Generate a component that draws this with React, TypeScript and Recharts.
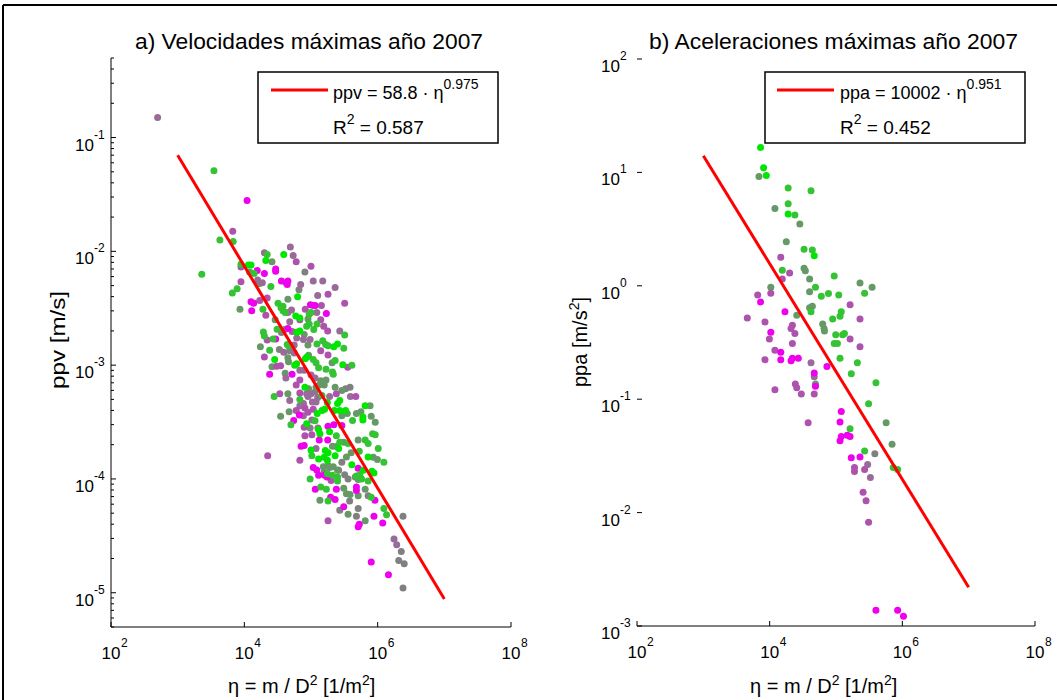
import { ScatterChart, Scatter, XAxis, YAxis } from 'recharts';

// tick values
const etaTicks = [1e2, 1e4, 1e6, 1e8];
const ppaMajor = [1e-3, 1e-2, 1e-1, 1, 10, 100];

// a) ppv [m/s] vs eta, grouped by dot colour
const ppvBrightGreen = [
  [3.9e4, 9.4e-3], [2.1e4, 8.3e-3], [1.15e4, 7.6e-3], [1.26e4, 7.6e-3], [6.3e4, 4.0e-3], [5.9e4, 2.7e-3],
  [6.8e4, 2.6e-3], [6.1e4, 1.95e-3], [6.8e4, 2.0e-3], [2.2e5, 1.45e-3], [2.5e5, 1.53e-3], [2.85e4, 1.12e-3],
  [5.7e4, 1.0e-3], [6.1e4, 1.03e-3], [8.2e4, 1.14e-3], [8.7e4, 1.18e-3], [3.0e5, 1.01e-3], [8.1e4, 6.4e-4],
  [6.5e5, 4.4e-4], [2.5e5, 4.6e-4], [2.7e5, 4.9e-4], [1.76e5, 4.7e-4], [6.0e5, 3.5e-4], [6.0e5, 3.3e-4],
  [2.24e5, 4.0e-4], [2.7e5, 4.0e-4], [3.3e5, 4.0e-4], [1.46e5, 4.0e-4], [1.6e5, 4.1e-4], [1.24e5, 3.75e-4],
  [1.3e5, 2.7e-4], [1.36e5, 2.5e-4], [1.9e5, 2.6e-4], [1.0e5, 1.8e-4], [1.64e5, 1.78e-4], [1.8e5, 1.7e-4],
  [2.6e5, 1.85e-4], [7.2e5, 1.56e-4], [4.1e5, 1.33e-4], [6.1e5, 1.19e-4], [8.2e5, 1.17e-4], [8.8e5, 1.13e-4],
  [1.76e5, 1.46e-4], [1.3e5, 1.5e-4], [1.58e5, 1.55e-4], [8.6e4, 3.05e-4], [2.3e5, 1.6e-4],
];
const ppvGreen = [
  [3.5e3, 5.1e-2], [4.3e3, 1.26e-2], [6.8e3, 1.22e-2], [2.3e3, 6.3e-3], [2.2e4, 9.4e-3], [1.4e4, 6.4e-3],
  [2.5e4, 4.9e-3], [7.8e3, 4.7e-3], [3.8e4, 3.3e-3], [6.6e3, 4.3e-3], [8.9e3, 7.7e-3], [3.55e4, 3.2e-3],
  [1.9e4, 3.1e-3], [3.2e4, 3.5e-3], [3.8e4, 3.0e-3], [4.1e4, 2.9e-3], [9.4e4, 2.8e-3], [1.0e5, 2.9e-3],
  [9.4e4, 2.3e-3], [1.23e5, 2.3e-3], [1.1e5, 2.06e-3], [8.6e4, 2.2e-3], [3.1e4, 2.07e-3], [2.7e4, 1.7e-3],
  [1.93e4, 1.96e-3], [2.0e4, 1.8e-3], [1.23e5, 1.53e-3], [1.5e5, 1.64e-3], [1.66e5, 1.52e-3], [1.8e5, 1.48e-3],
  [3.1e5, 1.41e-3], [4.4e4, 1.52e-3], [4.6e4, 1.48e-3], [1.08e5, 1.12e-3], [1.19e5, 1.05e-3], [1.3e5, 9.5e-4],
  [1.68e5, 9.2e-4], [2.1e5, 8.7e-4], [2.16e5, 8.3e-4], [2.8e4, 5.3e-4], [6.8e4, 5.0e-4], [5.0e4, 3.0e-4],
  [4.2e5, 3.26e-4], [2.4e5, 2.4e-4], [2.7e5, 2.1e-4], [3.6e5, 2.05e-4], [5.3e5, 1.75e-4], [6.5e5, 2.2e-4],
  [7.2e5, 2.05e-4], [8.4e5, 2.5e-4], [9.2e5, 2.45e-4], [1.02e6, 1.85e-4], [1.24e6, 1.4e-4], [1.76e5, 1.11e-4],
  [2.1e5, 1.08e-4], [2.5e5, 1.04e-4], [2.5e5, 9.6e-5], [4.8e5, 1.06e-4], [5.4e5, 1.09e-4], [5.75e5, 1.0e-4],
  [7.2e5, 9.6e-5], [1.4e5, 8.5e-5], [1.7e5, 8.1e-5], [1.8e5, 6.4e-5], [8.0e5, 6.9e-5], [1.24e6, 5.5e-5],
  [1.36e6, 4.85e-5], [1.15e5, 3.25e-4], [2.4e4, 1.35e-3], [1.46e5, 5.4e-4], [2.3e5, 1.1e-3], [3.2e5, 1.84e-3],
  [4.1e5, 1.0e-3], [1.03e5, 1.6e-4], [9.7e4, 1.0e-4],
];
const ppvGreyGreen = [
  [1.2e4, 6.6e-3], [1.66e4, 5.2e-3], [4.5e4, 3.8e-3], [8.6e3, 3.1e-3], [9.0e4, 2.55e-3], [4.1e4, 2.07e-3],
  [7.9e4, 1.86e-3], [1.74e4, 1.45e-3], [2.6e4, 9.7e-4], [4.5e4, 1.16e-3], [4.6e4, 1.07e-3], [4.1e4, 8.5e-4],
  [9.2e4, 1.22e-3], [2.07e5, 1.05e-3], [1.4e5, 7.3e-4], [1.58e5, 6.7e-4], [9.2e4, 6.2e-4], [1.19e5, 6.4e-4],
  [1.33e5, 6.7e-4], [2.3e5, 6.4e-4], [2.9e5, 6.0e-4], [7.7e5, 4.4e-4], [4.5e4, 5.6e-4], [3.5e4, 3.56e-4],
  [4.7e4, 3.9e-4], [5.6e5, 3.9e-4], [4.8e5, 3.75e-4], [8.0e5, 3.56e-4], [9.2e5, 3.15e-4], [3.5e5, 3.75e-4],
  [2.9e5, 3.6e-4], [2.1e5, 1.94e-4], [2.4e5, 1.93e-4], [3.1e5, 2.1e-4], [4.0e5, 1.7e-4], [3.4e5, 1.56e-4],
  [8.6e5, 1.55e-4], [9.9e5, 1.48e-4], [1.8e5, 1.32e-4], [1.53e5, 1.28e-4], [2.16e5, 1.28e-4], [2.5e5, 1.2e-4],
  [4.6e5, 1.04e-4], [5.1e5, 9.9e-5], [3.1e5, 8.3e-5], [3.4e5, 7.4e-5], [3.85e5, 7.3e-5], [5.1e5, 7.1e-5],
  [6.5e5, 8.1e-5], [3.6e5, 4.9e-5], [2.9e4, 2.5e-3], [9.0e4, 1.5e-3], [1.68e5, 7.4e-4], [5.1e5, 2.2e-4],
  [1.36e5, 6.5e-5], [6.5e5, 4.3e-5], [2.6e4, 8.1e-3],
];
const ppvGrey = [
  [3.6e4, 1.94e-3], [3.35e4, 1.37e-3], [4.8e4, 1.34e-3], [3.3e5, 6.2e-4], [3.85e5, 6.4e-4], [1.9e5, 1.26e-4],
  [2.6e5, 1.19e-4], [3.2e5, 1.09e-4], [3.6e5, 1.0e-4], [1.57e5, 1.15e-4], [7.2e5, 7.1e-5], [3.8e5, 6.4e-5],
  [5.1e5, 5.5e-5], [4.8e5, 4.7e-5], [2.4e6, 4.7e-5], [2.26e6, 2.3e-5], [2.07e6, 1.92e-5], [2.5e6, 1.8e-5],
  [2.4e6, 1.1e-5], [9.7e4, 2.8e-4], [6.6e4, 4.6e-3], [1.15e5, 5.8e-4], [2.9e5, 1.4e-4], [2.7e5, 5.3e-5],
  [8.1e4, 6.6e-3],
];
const ppvGreyPurple = [
  [5.0e2, 1.5e-1], [2.0e4, 9.7e-3], [4.9e4, 1.09e-2], [5.4e4, 9.2e-3], [4.2e4, 5.3e-3], [7.0e4, 5.1e-3],
  [1.08e5, 5.5e-3], [1.5e5, 5.5e-3], [2.3e5, 4.8e-3], [1.26e5, 4.1e-3], [1.58e4, 5.6e-3], [1.86e4, 5.3e-3],
  [4.5e4, 2.9e-3], [5.1e4, 3.05e-3], [1.22e5, 2.9e-3], [6.1e4, 1.73e-3], [7.7e4, 1.68e-3], [9.7e4, 1.68e-3],
  [3.9e4, 1.3e-3], [5.6e4, 1.28e-3], [6.8e4, 9.0e-4], [7.9e4, 9.0e-4], [1.0e5, 8.2e-4], [1.15e5, 7.7e-4],
  [1.0e5, 5.6e-4], [3.9e5, 5.3e-4], [1.9e5, 5.3e-4], [1.05e5, 4.75e-4], [1.19e5, 4.75e-4], [8.6e4, 5.6e-4],
  [9.0e4, 5.3e-4], [1.19e5, 1.85e-4], [1.76e6, 2.96e-5], [1.93e6, 2.64e-5], [7.7e4, 4.6e-4], [7.7e4, 3.6e-4],
  [1.26e5, 5.2e-4], [6.8e4, 4.4e-4], [1.03e5, 3.3e-4], [1.27e5, 2.8e-4], [4.8e4, 4.9e-4], [4.2e4, 7.7e-4],
  [5.6e4, 1.5e-3], [4.8e4, 2.4e-3], [2.7e5, 2.0e-3],
];
const ppvPurple = [
  [6.7e3, 1.5e-2], [6.0e4, 8.1e-3], [1.0e5, 7.4e-3], [8.9e3, 7.3e-3], [8.9e3, 5.4e-3], [1.8e5, 4.2e-3],
  [3.2e5, 3.5e-3], [1.08e5, 3.35e-3], [1.43e5, 3.35e-3], [2.1e4, 2.75e-3], [2.2e4, 3.9e-3], [8.2e4, 3.1e-3],
  [1.4e5, 2.5e-3], [1.55e5, 2.2e-3], [1.78e5, 2.0e-3], [5.2e4, 1.98e-3], [2.2e4, 1.66e-3], [2.0e4, 1.18e-3],
  [3.05e4, 9.8e-4], [3.5e4, 9.9e-4], [1.4e5, 1.34e-3], [1.8e5, 1.23e-3], [3.55e5, 9.6e-4], [6.8e4, 5.7e-4],
  [4.7e5, 5.3e-4], [2.4e5, 5.6e-4], [3.4e4, 5.6e-4], [8.1e4, 2.4e-4], [1.03e5, 2.45e-4], [2.24e4, 1.6e-4],
  [2.0e5, 9.7e-5], [1.8e5, 4.3e-5], [8.1e4, 4.2e-4], [1.08e5, 4.1e-4], [9.0e4, 3.85e-4], [7.9e4, 2.85e-4],
  [6.0e4, 4.0e-4], [6.0e4, 6.7e-4], [6.8e4, 7.4e-4], [6.8e4, 2.5e-3], [6.8e4, 1.46e-4], [1.7e4, 3.7e-3],
];
const ppvMagenta = [
  [1.1e4, 2.8e-2], [1.56e4, 6.8e-3], [2.0e4, 6.4e-3], [2.95e4, 7.0e-3], [2.95e4, 6.7e-3], [3.6e4, 5.5e-3],
  [4.5e4, 5.5e-3], [4.4e4, 5.1e-3], [1.7e5, 2.85e-3], [1.26e4, 3.6e-3], [1.38e4, 3.5e-3], [1.29e4, 3.0e-3],
  [9.8e4, 3.4e-3], [1.15e5, 3.35e-3], [4.5e4, 2.1e-3], [2.95e4, 1.7e-3], [2.4e4, 8.3e-4], [5.2e4, 8.3e-4],
  [6.7e4, 3.65e-4], [5.5e4, 3.26e-4], [1.8e5, 2.9e-4], [2.2e5, 3.0e-4], [2.9e5, 2.95e-4], [1.33e5, 2.2e-4],
  [1.78e5, 2.2e-4], [7.1e4, 1.94e-4], [7.9e4, 1.97e-4], [5.1e5, 1.24e-4], [1.08e5, 1.26e-4], [1.22e5, 1.2e-4],
  [1.3e5, 1.08e-4], [1.6e5, 1.08e-4], [1.74e5, 1.04e-4], [1.16e5, 8.1e-5], [2.4e5, 8.1e-5], [1.97e5, 6.9e-5],
  [2.3e5, 6.6e-5], [4.8e5, 8.5e-5], [4.8e5, 7.9e-5], [3.1e5, 5.7e-5], [8.8e5, 4.7e-5], [1.19e6, 4.1e-5],
  [5.3e5, 4.0e-5], [5.1e5, 3.8e-5], [8.0e5, 1.86e-5], [1.45e6, 1.44e-5], [9.1e5, 6.5e-5],
];
const ppvFit = [[1e3, 0.070], [1e7, 8.8e-6]];

// b) ppa [m/s2] vs eta
const ppaBrightGreen = [[7.3e3, 16.6], [8.1e3, 11.0], [8.9e3, 9.4], [1.9e4, 4.3], [4.7e4, 1.84]];
const ppaGreen = [
  [1.9e4, 7.3], [4.2e4, 6.9], [1.9e4, 5.3], [2.4e4, 4.2], [3.3e4, 2.1], [4.4e4, 2.07], [1.55e4, 1.37],
  [9.4e4, 1.22], [4.9e4, 0.97], [6.0e4, 0.81], [7.7e4, 0.855], [1.1e5, 0.83], [2.7e5, 0.86], [4.2e4, 0.59],
  [1.15e5, 0.54], [1.2e5, 0.59], [8.9e4, 0.51], [9.9e4, 0.37], [1.26e5, 0.37], [1.34e5, 0.38], [9.4e4, 0.31],
  [1.05e5, 0.31], [1.15e5, 0.23], [2.1e5, 0.21], [1.7e5, 0.168], [4.0e5, 0.14], [3.1e5, 0.091], [1.63e5, 0.055],
  [2.7e5, 0.035], [7.3e5, 0.025], [8.5e5, 0.024],
];
const ppaGreyGreen = [
  [6.9e3, 9.2], [1.2e4, 4.8], [2.85e4, 3.5], [1.78e4, 2.45], [3.3e4, 1.43], [3.45e4, 1.36], [4.0e4, 1.15],
  [1.04e4, 0.97], [4.0e4, 0.885], [2.3e5, 1.06], [3.5e5, 0.97], [4.0e4, 0.64], [4.4e4, 0.66], [2.56e4, 0.55],
  [6.3e4, 0.46], [6.6e4, 0.42], [6.7e4, 0.40], [4.9e4, 0.136], [5.7e5, 0.062], [7.0e5, 0.04],
];
const ppaGrey = [[3.85e5, 0.033]];
const ppaGreyPurple = [[4.2e4, 0.21], [4.7e4, 0.158], [3.0e5, 0.0265], [3.3e5, 0.0204]];
const ppaPurple = [
  [1.47e4, 1.79], [2.0e4, 1.3], [1.55e4, 1.15], [1.04e4, 0.86], [6.6e3, 0.83], [1.63e5, 0.68], [4.6e3, 0.52],
  [8.5e3, 0.48], [2.3e5, 0.51], [2.2e4, 0.45], [2.1e4, 0.42], [2.4e4, 0.38], [9.9e3, 0.34], [1.63e5, 0.34],
  [2.2e4, 0.31], [2.3e5, 0.29], [1.2e4, 0.27], [8.5e3, 0.223], [2.44e4, 0.136], [2.56e4, 0.126], [1.2e4, 0.121],
  [3.0e4, 0.111], [4.7e4, 0.111], [3.8e4, 0.062], [1.9e5, 0.025], [1.9e5, 0.023], [2.7e5, 0.024],
  [2.56e5, 0.0151], [2.84e5, 0.0127], [3.1e5, 0.0082],
];
const ppaMagenta = [
  [7.3e3, 0.72], [1.7e4, 0.59], [1.04e4, 0.39], [1.47e4, 0.26], [1.47e4, 0.223], [2.1e4, 0.218], [2.2e4, 0.23],
  [2.7e4, 0.23], [7.3e4, 0.194], [4.7e4, 0.17], [4.9e4, 0.13], [1.2e5, 0.078], [1.15e5, 0.063], [1.2e5, 0.047],
  [1.48e5, 0.048], [1.63e5, 0.047], [1.15e5, 0.043], [1.7e5, 0.0305], [2.3e5, 0.031], [4.0e5, 1.38e-3],
  [8.5e5, 1.38e-3], [1.04e6, 1.22e-3],
];
const ppaFit = [[1e3, 14.0], [1e7, 2.2e-3]];

const colors = {
  brightGreen: '#00e600',
  green: '#33c333',
  greyGreen: '#669966',
  grey: '#808080',
  greyPurple: '#996b99',
  purple: '#ad52ad',
  magenta: '#ee00ee',
};

const pts = (arr: number[][]) => arr.map(([eta, v]) => ({ eta, v }));

// minor tick positions 1..9 per decade
const minorTicks = (lo: number, hi: number) => {
  const out: number[] = [];
  for (let d = -7; d <= 2; d++) {
    for (let k = 1; k <= 9; k++) {
      const v = k * Math.pow(10, d);
      if (v >= lo * 0.999 && v <= hi * 1.001) out.push(v);
    }
  }
  return out;
};

const FONT = 'Liberation Sans, Arial, Helvetica, sans-serif';

const isMajor = (v: number) => Math.abs(Math.log10(v) - Math.round(Math.log10(v))) < 1e-6;

const XTick = (props: any) => {
  const { x, y, payload } = props;
  const e = Math.round(Math.log10(payload.value));
  return (
    <g fontFamily={FONT} fill="#000">
      <line x1={x} x2={x} y1={y} y2={y - 5} stroke="#000" strokeWidth={1} />
      <text x={x} y={y + 32} textAnchor="middle" fontSize={17}>10</text>
      <text x={x + 10} y={y + 20} fontSize={12}>{e}</text>
    </g>
  );
};

const makeYTick = (minorOn: boolean) => (props: any) => {
  const { x, y, payload } = props;
  const v = payload.value;
  const major = isMajor(v);
  if (!major && !minorOn) return <g />;
  const ax = x + 8;
  const e = Math.round(Math.log10(v));
  return (
    <g fontFamily={FONT} fill="#000">
      <line x1={ax} x2={ax + (major ? 5 : 3)} y1={y} y2={y} stroke="#000" strokeWidth={1} />
      {major && (
        <>
          <text x={ax - 17} y={y + 13} textAnchor="end" fontSize={17}>10</text>
          <text x={ax - 17} y={y + 1} fontSize={12}>{e}</text>
        </>
      )}
    </g>
  );
};

const Dot = (color: string) => (p: any) => <circle cx={p.cx} cy={p.cy} r={3.5} fill={color} />;
const NoDot = () => <g />;

function Panel({ series, fit, yDomain, yTicks, minorOn, right }: any) {
  return (
    <ScatterChart width={530} height={700} margin={{ top: right ? 59 : 58, right: right ? 21 : 19, bottom: 0, left: 0 }}>
      <XAxis
        dataKey="eta"
        type="number"
        scale="log"
        domain={[1e2, 1e8]}
        ticks={etaTicks}
        interval={0}
        allowDataOverflow
        tickSize={0}
        tickMargin={0}
        tickLine={false}
        axisLine={{ stroke: '#000' }}
        tick={<XTick />}
        height={right ? 74 : 73}
      />
      <YAxis
        dataKey="v"
        type="number"
        scale="log"
        domain={yDomain}
        ticks={yTicks}
        interval={0}
        allowDataOverflow
        tickSize={0}
        tickMargin={8}
        tickLine={false}
        axisLine={right ? false : { stroke: '#000' }}
        tick={makeYTick(minorOn)}
        width={111}
      />
      {series.map(([data, color]: any, i: number) => (
        <Scatter key={i} data={pts(data)} shape={Dot(color)} isAnimationActive={false} />
      ))}
      <Scatter data={pts(fit)} line={{ stroke: '#ff0000', strokeWidth: 3 }} shape={NoDot} isAnimationActive={false} />
    </ScatterChart>
  );
}

export default function App() {
  const ppvTicks = minorTicks(5e-6, 0.5);
  const ppvSeries = [
    [ppvGrey, colors.grey], [ppvGreyGreen, colors.greyGreen], [ppvGreyPurple, colors.greyPurple],
    [ppvPurple, colors.purple], [ppvMagenta, colors.magenta], [ppvGreen, colors.green], [ppvBrightGreen, colors.brightGreen],
  ];
  const ppaSeries = [
    [ppaGrey, colors.grey], [ppaGreyGreen, colors.greyGreen], [ppaGreyPurple, colors.greyPurple],
    [ppaPurple, colors.purple], [ppaMagenta, colors.magenta], [ppaGreen, colors.green], [ppaBrightGreen, colors.brightGreen],
  ];
  return (
    <div style={{ position: 'absolute', left: 0, top: 0, width: 1057, height: 700, background: '#fff', overflow: 'hidden' }}>
      <div style={{ position: 'absolute', left: 0, top: 0 }}>
        <Panel series={ppvSeries} fit={ppvFit} yDomain={[5e-6, 0.5]} yTicks={ppvTicks} minorOn />
      </div>
      <div style={{ position: 'absolute', left: 526, top: 0 }}>
        <Panel series={ppaSeries} fit={ppaFit} yDomain={[1e-3, 1e2]} yTicks={ppaMajor} minorOn={false} right />
      </div>
      <svg width={1057} height={700} style={{ position: 'absolute', left: 0, top: 0, pointerEvents: 'none' }} fontFamily={FONT}>
        <line x1={3} y1={5} x2={1057} y2={5} stroke="#000" strokeWidth={2} />
        <line x1={3} y1={5} x2={3} y2={700} stroke="#000" strokeWidth={2} />

        <text x={135} y={49} fontSize={22} textLength={348} lengthAdjust="spacingAndGlyphs">a) Velocidades máximas año 2007</text>
        <text x={649} y={49} fontSize={22} textLength={369} lengthAdjust="spacingAndGlyphs">b) Aceleraciones máximas año 2007</text>

        <text transform="translate(65,340) rotate(-90)" textAnchor="middle" fontSize={20} textLength={98} lengthAdjust="spacingAndGlyphs">ppv [m/s]</text>
        <text transform="translate(587,342) rotate(-90)" textAnchor="middle" fontSize={20}>
          ppa [m/s<tspan dy={-8} fontSize={14}>2</tspan><tspan dy={8}>]</tspan>
        </text>

        <text x={228} y={693} fontSize={20}>
          η = m / D<tspan dy={-8} fontSize={14}>2</tspan><tspan dy={8}> [1/m</tspan><tspan dy={-8} fontSize={14}>2</tspan><tspan dy={8}>]</tspan>
        </text>
        <text x={750} y={693} fontSize={20}>
          η = m / D<tspan dy={-8} fontSize={14}>2</tspan><tspan dy={8}> [1/m</tspan><tspan dy={-8} fontSize={14}>2</tspan><tspan dy={8}>]</tspan>
        </text>

        <rect x={258} y={72} width={240} height={71} fill="#fff" stroke="#000" strokeWidth={1.5} />
        <line x1={271} y1={90} x2={328} y2={90} stroke="#ff0000" strokeWidth={3} />
        <text x={333} y={99} fontSize={18}>
          ppv = 58.8 · η<tspan dy={-10} fontSize={14}>0.975</tspan>
        </text>
        <text x={333} y={134} fontSize={19}>
          R<tspan dy={-10} fontSize={14}>2</tspan><tspan dy={10}> = 0.587</tspan>
        </text>

        <rect x={765} y={72} width={260} height={71} fill="#fff" stroke="#000" strokeWidth={1.5} />
        <line x1={777} y1={90} x2={834} y2={90} stroke="#ff0000" strokeWidth={3} />
        <text x={840} y={99} fontSize={18}>
          ppa = 10002 · η<tspan dy={-10} fontSize={14}>0.951</tspan>
        </text>
        <text x={840} y={134} fontSize={19}>
          R<tspan dy={-10} fontSize={14}>2</tspan><tspan dy={10}> = 0.452</tspan>
        </text>
      </svg>
    </div>
  );
}
